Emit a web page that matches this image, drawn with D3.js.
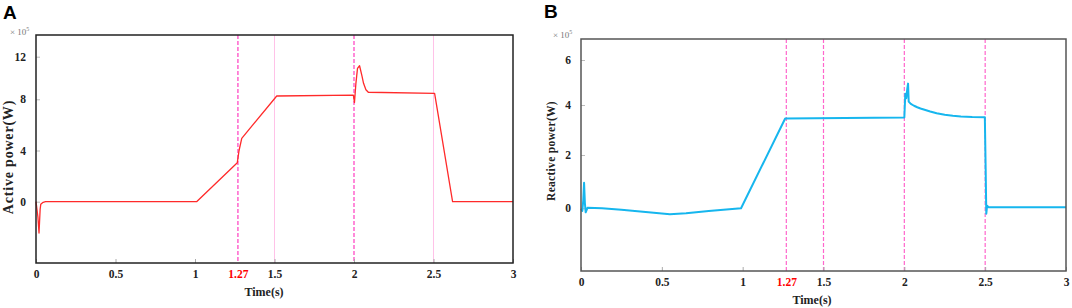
<!DOCTYPE html>
<html>
<head>
<meta charset="utf-8">
<script src="https://cdn.jsdelivr.net/npm/d3@7"></script>
<style>
  body { margin: 0; background: #fff; }
  svg text { font-family: "Liberation Serif", "DejaVu Serif", serif; }
</style>
</head>
<body>
<div id="chart"></div>
<script>
// shared time axis (s)
var timeTicks = [0, 0.5, 1, 1.27, 1.5, 2, 2.5, 3];
var eventTimes = [1.27, 1.5, 2, 2.5];

// panel A: active power, x10^5 W
var activeTicks = [0, 4, 8, 12];
var activeTime  = [0, 0.012, 0.019, 0.026, 0.03, 0.045, 0.06, 1.01, 1.266, 1.277, 1.294, 1.514,
                   1.996, 2.003, 2.012, 2.022, 2.035, 2.05, 2.06, 2.075, 2.09, 2.507, 2.62, 3.0];
var activePower = [0, -1.2, -2.45, -0.6, -0.2, -0.05, 0, 0, 3.05, 4.0, 4.95, 8.31,
                   8.39, 7.75, 9.5, 10.9, 11.15, 10.2, 9.5, 8.9, 8.66, 8.56, 0, 0];

// panel B: reactive power, x10^5 W
var reactiveTicks = [0, 2, 4, 6];
var reactiveTime  = [0, 0.008, 0.014, 0.019, 0.024, 0.029, 0.04, 0.13, 0.25, 0.35, 0.45, 0.55, 0.65, 0.79, 0.99,
                     1.263, 2.0, 2.006, 2.012, 2.018, 2.023, 2.027, 2.04, 2.06, 2.08, 2.1, 2.13, 2.16, 2.2,
                     2.25, 2.3, 2.35, 2.42, 2.498, 2.503, 2.507, 2.512, 2.52, 3.0];
var reactivePower = [-0.02, -0.1, 0.3, 0.96, 0.2, -0.15, 0.02, 0, -0.05, -0.11, -0.17, -0.22, -0.19, -0.1, 0,
                     3.46, 3.5, 4.5, 4.3, 4.7, 4.95, 4.15, 4.05, 3.97, 3.91, 3.86, 3.8, 3.74, 3.67,
                     3.61, 3.57, 3.54, 3.52, 3.51, 1.5, -0.2, 0.1, 0.04, 0.04];

var svg = d3.select("#chart")
            .append("svg")
            .attr("width", 1072)
            .attr("height", 308);

var panels = [
  {
    label: "A", labelX: 3, labelY: 19,
    left: 36, right: 513, top: 35, bottom: 263,
    // the y axis of the original is not evenly spaced, so the scale is piecewise
    yDomain: [-4.8, 0, 8, 12, 14.04],
    yRange: [263, 201.7, 99.3, 56.7, 35],
    yTicks: activeTicks,
    time: activeTime, values: activePower,
    color: "#ff2a2a", width: 1.3,
    frame: "#222",
    yTitle: "Active power(W)", yTitleX: 8, yTitleY: 157, yTitleSize: 14, yTitleSpacing: 0.8,
    expX: 10, expY: 35,
    xTitleX: 264, xTitleY: 296,
    eventStyle: [
      {stroke: "#ff3cc0", dash: "4,2", width: 1.2},
      {stroke: "#ffc2e8", dash: null, width: 1},
      {stroke: "#ff3cc0", dash: "4,2", width: 1.2},
      {stroke: "#ffc2e8", dash: null, width: 1}
    ]
  },
  {
    label: "B", labelX: 544, labelY: 18,
    left: 581, right: 1066, top: 39, bottom: 271,
    yDomain: [-2.35, 0, 2, 4, 6, 6.93],
    yRange: [271, 208.3, 155, 105, 60, 39],
    yTicks: reactiveTicks,
    time: reactiveTime, values: reactivePower,
    color: "#16b6ee", width: 2,
    frame: "#555",
    yTitle: "Reactive power(W)", yTitleX: 551, yTitleY: 151, yTitleSize: 11.5, yTitleSpacing: 0.3,
    expX: 553, expY: 38,
    xTitleX: 812, xTitleY: 304,
    eventStyle: [
      {stroke: "#ff66cc", dash: "4,2", width: 1.2},
      {stroke: "#ff66cc", dash: "4,2", width: 1.2},
      {stroke: "#ff66cc", dash: "4,2", width: 1.2},
      {stroke: "#ff66cc", dash: "4,2", width: 1.2}
    ]
  }
];

panels.forEach(drawPanel);

function drawPanel(p) {
  var g = svg.append("g");

  var xScale = d3.scaleLinear()
                 .domain([0, 3])
                 .range([p.left, p.right]);
  var yScale = d3.scaleLinear()
                 .domain(p.yDomain)
                 .range(p.yRange);

  // event markers
  g.selectAll(".event")
   .data(eventTimes)
   .enter()
   .append("line")
   .attr("class", "event")
   .attr("x1", function(d) { return xScale(d); })
   .attr("x2", function(d) { return xScale(d); })
   .attr("y1", p.top)
   .attr("y2", p.bottom)
   .attr("stroke", function(d, i) { return p.eventStyle[i].stroke; })
   .attr("stroke-width", function(d, i) { return p.eventStyle[i].width; })
   .attr("stroke-dasharray", function(d, i) { return p.eventStyle[i].dash; });

  // x axis
  var xAxis = g.append("g")
     .attr("transform", "translate(0," + p.bottom + ")")
     .call(d3.axisBottom(xScale)
             .tickValues(timeTicks)
             .tickSize(-4)
             .tickPadding(7)
             .tickFormat(function(d) { return d; }));
  xAxis.select(".domain").remove();
  xAxis.selectAll(".tick line")
       .attr("stroke", "#aaa")
       .attr("stroke-opacity", function(d) { return d === 1.27 ? 0 : 1; });
  xAxis.selectAll(".tick text")
       .attr("font-family", "Liberation Serif")
       .attr("font-weight", "bold")
       .attr("font-size", 11.5)
       .attr("fill", function(d) { return d === 1.27 ? "#ff0000" : "#222"; });

  // y axis
  var yAxis = g.append("g")
     .attr("transform", "translate(" + p.left + ",0)")
     .call(d3.axisLeft(yScale)
             .tickValues(p.yTicks)
             .tickSize(-4)
             .tickPadding(10));
  yAxis.select(".domain").remove();
  yAxis.selectAll(".tick line").attr("stroke", "#bbb");
  yAxis.selectAll(".tick text")
       .attr("font-family", "Liberation Serif")
       .attr("font-weight", "bold")
       .attr("font-size", 11.5)
       .attr("fill", "#222");

  // signal
  var points = p.time.map(function(t, i) { return [t, p.values[i]]; });
  var line = d3.line()
               .x(function(d) { return xScale(d[0]); })
               .y(function(d) { return yScale(d[1]); });
  g.append("path")
   .datum(points)
   .attr("fill", "none")
   .attr("stroke", p.color)
   .attr("stroke-width", p.width)
   .attr("stroke-linejoin", "round")
   .attr("d", line);

  // frame
  g.append("rect")
   .attr("x", p.left)
   .attr("y", p.top)
   .attr("width", p.right - p.left)
   .attr("height", p.bottom - p.top)
   .attr("fill", "none")
   .attr("stroke", p.frame)
   .attr("stroke-width", 1.5);

  // texts
  g.append("text")
   .attr("x", p.labelX)
   .attr("y", p.labelY)
   .style("font-family", "Liberation Sans, Arial, sans-serif")
   .attr("font-weight", "bold")
   .attr("font-size", 19)
   .text(p.label);

  var exp = g.append("text")
   .attr("x", p.expX)
   .attr("y", p.expY)
   .attr("font-size", 9)
   .attr("fill", "#777");
  exp.append("tspan").text("\u00d7 10");
  exp.append("tspan").attr("dy", -4).attr("font-size", 6).text("5");

  g.append("text")
   .attr("transform", "translate(" + p.yTitleX + "," + p.yTitleY + ") rotate(-90)")
   .attr("text-anchor", "middle")
   .attr("dominant-baseline", "central")
   .attr("font-weight", "bold")
   .attr("font-size", p.yTitleSize)
   .attr("letter-spacing", p.yTitleSpacing)
   .attr("fill", "#222")
   .text(p.yTitle);

  g.append("text")
   .attr("x", p.xTitleX)
   .attr("y", p.xTitleY)
   .attr("text-anchor", "middle")
   .attr("font-weight", "bold")
   .attr("font-size", 12)
   .attr("fill", "#222")
   .text("Time(s)");
}
</script>
</body>
</html>
